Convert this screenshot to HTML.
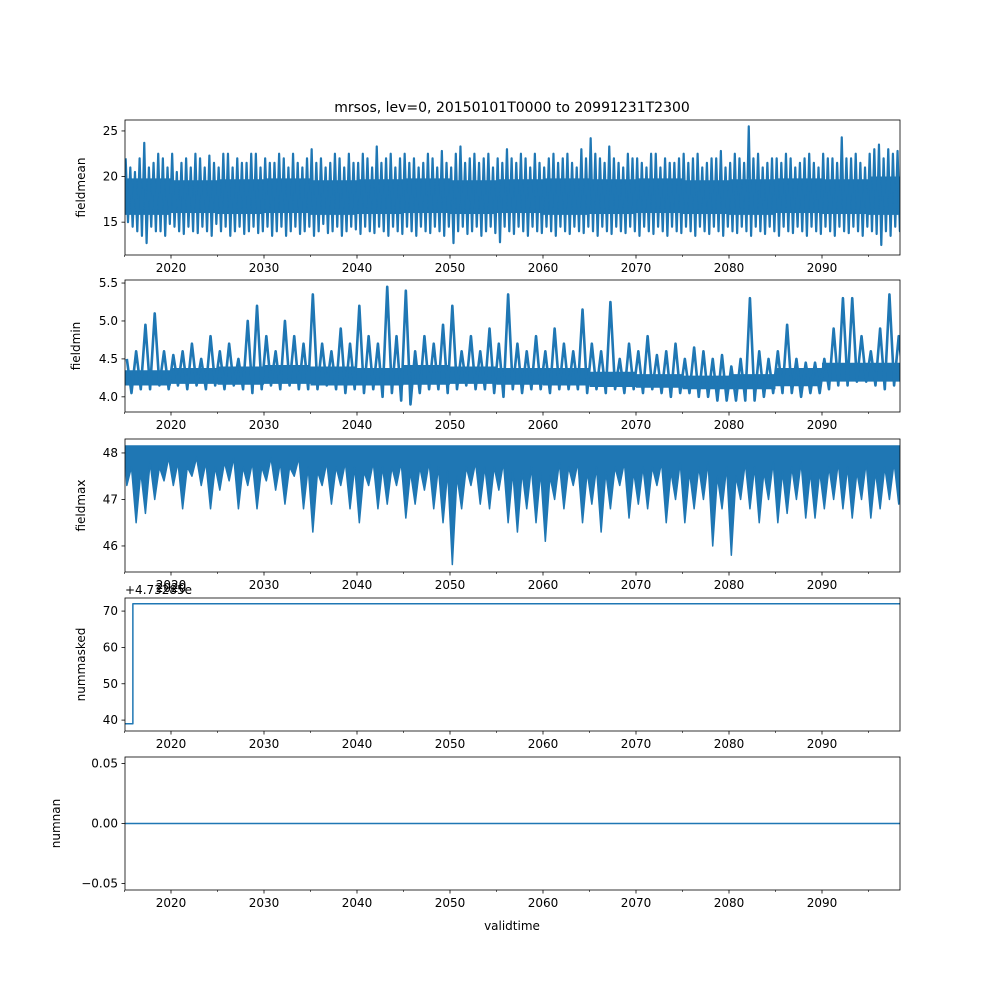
<!DOCTYPE html>
<html><head><meta charset="utf-8"><style>
body{margin:0;background:#fff}
svg{font-family:"DejaVu Sans","Liberation Sans",sans-serif}
</style></head><body>
<svg id="fig" width="1000" height="1000" xmlns="http://www.w3.org/2000/svg">
<rect width="1000" height="1000" fill="#fff"/>
<text x="512" y="112" font-size="14" text-anchor="middle">mrsos, lev=0, 20150101T0000 to 20991231T2300</text>
<text x="512" y="930" font-size="12" text-anchor="middle">validtime</text>
</svg>
<script>
// data
const startYear = 2015;
const meanVals = [22,15,21,14.5, 20.5,14,22,13.5, 23.7,12.7,21,14.5, 21.5,14,22.5,14, 22,13.5,21,14.8, 22.5,14.5,20.5,14, 21.5,13.7,22,14.5, 21,14,22.5,13.8, 22,14.5,21,14, 22.3,13.5,21.5,14.8,
21,14,22.5,14.5, 22.5,13.5,21,14, 22,14.5,21.5,13.7, 21.5,14,22.5,14.5, 22.5,13.8,21,14, 22,14.5,21.5,13.5, 21.5,14,22.5,14.5, 22,13.5,21,14, 22.5,14.5,21.5,13.7, 21,14,22,14.5,
23,13.5,21.5,14, 22,14.8,21,13.8, 21.5,14,22.5,14.5, 22,13.5,21,14, 22.5,14.5,21.5,14.2, 21.5,13.7,22.5,14.5, 22,14,21,13.8, 23.3,14.5,21.5,14, 22,13.5,22.5,14.5, 21,14,22,13.7,
22.5,14.5,21.5,14, 22,13.5,21,14.5, 21.5,14,22.5,13.8, 22,14.5,21,14, 22.8,13.5,21.5,14.5, 21,12.7,22.5,14, 23.3,14.5,21.5,13.7, 22,14,22.5,14.5, 21.5,13.5,22,14, 22.5,14.5,21,13.8,
22,12.8,21.5,14.5, 23,14,22,13.7, 21.5,14.5,22.5,14, 22,13.5,21,14.5, 22.5,14,21.5,13.8, 21,14.5,22,14, 22.5,13.5,21.5,14.5, 22,14,22.5,13.7, 21.5,14.5,21,14, 23,13.8,22,14.5,
24.2,14,22.5,13.5, 22,14.5,21.5,14, 23.3,13.7,22,14.5, 21.5,14,21,13.8, 22.5,14.5,22,14, 22,13.5,21.5,14.5, 21,14,22.5,13.7, 22.5,14.5,21,14, 22,13.5,21.5,14.5, 21.5,14,22,13.8,
22.5,14.5,21.5,14, 22,13.5,22.5,14.5, 21,14,21.5,13.7, 22,14.5,22,14, 22.8,13.5,21,14.5, 21.5,14,22.5,13.8, 22,14.5,21.5,14, 25.5,13.5,22,14.5, 22.5,14,21,13.7, 21.5,14.5,22,14,
22,13.5,21.5,14.5, 22.5,14,22,13.8, 21,14.5,21.5,14, 22,13.5,22.5,14.5, 21.5,14,21,13.7, 22.5,14.5,22,14, 22,13.5,21.5,14.5, 24.3,14,22,13.8, 22,14.5,22.5,14, 21.5,13.5,21,14.5,
22.5,14,23,13.7, 23.5,12.5,22,14, 23,13.5,22.5,14.5, 22.8,14,21.5,13.8, 22.5,14.5,21,14];
// core (dense) band per 5-year block
const meanCoreLo = [15.8,16.0,15.9,16.0,15.8,15.9,16.0,15.9,16.0,15.8,15.9,16.0,15.9,15.8,16.0,15.9,15.8];
const meanCoreHi = [19.8,19.6,19.7,19.8,19.6,19.7,19.8,19.6,19.7,19.8,19.7,19.8,19.6,19.7,19.8,19.7,20.0];
const minVals = [4.5,4.05, 4.6,4.1, 4.95,4.1, 5.1,4.15, 4.6,4.1, 4.55,4.15, 4.6,4.1, 4.7,4.15, 4.5,4.1, 4.8,4.15,
4.6,4.1, 4.7,4.15, 4.5,4.1, 5.0,4.05, 5.2,4.1, 4.8,4.15, 4.6,4.1, 5.0,4.15, 4.8,4.1, 4.7,4.1,
5.35,4.1, 4.7,4.15, 4.6,4.1, 4.9,4.05, 4.7,4.1, 5.2,4.05, 4.8,4.1, 4.7,4.0, 5.45,4.05, 4.8,3.95,
5.4,3.9, 4.6,4.05, 4.8,4.1, 4.7,4.1, 4.95,4.05, 5.2,4.1, 4.6,4.15, 4.8,4.1, 4.6,4.1, 4.9,4.05,
4.7,4.0, 5.35,4.1, 4.7,4.05, 4.6,4.1, 4.8,4.1, 4.6,4.05, 4.9,4.1, 4.7,4.1, 4.6,4.1, 5.15,4.05,
4.7,4.1, 4.6,4.05, 5.25,4.1, 4.5,4.05, 4.7,4.1, 4.6,4.05, 4.8,4.1, 4.55,4.05, 4.6,4.0, 4.7,4.05,
4.5,4.05, 4.65,4.0, 4.6,4.0, 4.5,3.95, 4.55,3.95, 4.4,3.95, 4.5,3.95, 5.3,3.95, 4.6,4.0, 4.5,4.05,
4.6,4.05, 4.95,4.05, 4.5,4.0, 4.45,4.05, 4.45,4.05, 4.5,4.1, 4.9,4.15, 5.3,4.15, 5.3,4.2, 4.8,4.2,
4.6,4.15, 4.9,4.1, 5.35,4.15, 4.8,4.2, 5.0,4.15];
const minCoreLo = [4.15,4.17,4.16,4.17,4.15,4.15,4.16,4.17,4.16,4.15,4.13,4.12,4.10,4.10,4.14,4.20,4.20];
const minCoreHi = [4.35,4.38,4.40,4.42,4.40,4.38,4.42,4.40,4.38,4.38,4.33,4.30,4.28,4.30,4.38,4.45,4.45];
const maxTop = 48.15;
const maxSpike = [47.3,46.5,46.7,47.0,47.4,47.3,46.8,47.5,47.3,46.8, 47.2,47.4,46.8,47.3,46.8,47.4,47.2,46.9,47.5,46.8,
46.3,47.3,46.9,47.3,46.8,46.5,47.3,46.8,46.9,47.3, 46.6,46.9,47.2,46.8,46.5,45.6,46.8,47.3,46.9,46.8,
47.2,46.5,46.3,46.8,46.5,46.1,47.0,46.8,47.3,46.5, 46.9,46.3,46.8,47.3,46.6,46.9,46.8,47.3,46.5,47.0,
46.5,46.8,47.0,46.0,46.8,45.8,47.0,46.8,46.5,47.0, 46.5,46.7,47.0,46.6,46.6,46.8,47.0,46.8,46.6,47.0,
46.6,46.8,47.0,46.9,46.9];
const maxBulk = [47.7,47.6,47.8,47.7,47.9,47.8,47.7,47.9,47.8,47.7, 47.8,47.9,47.7,47.8,47.7,47.9,47.8,47.7,47.9,47.7,
47.6,47.8,47.7,47.8,47.7,47.6,47.8,47.7,47.7,47.8, 47.6,47.7,47.8,47.7,47.6,47.5,47.7,47.8,47.7,47.7,
47.8,47.6,47.6,47.7,47.6,47.5,47.8,47.7,47.8,47.6, 47.7,47.6,47.7,47.8,47.6,47.7,47.7,47.8,47.6,47.8,
47.6,47.7,47.8,47.5,47.7,47.5,47.8,47.7,47.6,47.8, 47.6,47.7,47.8,47.6,47.6,47.7,47.8,47.7,47.6,47.8,
47.6,47.7,47.8,47.7,47.7];
const maskedTimes = [2015.0, 2015.9, 2015.9, 2099.9];
const maskedVals = [39, 39, 72, 72];
const nanTimes = [2015.0, 2099.9];
const nanVals = [0, 0];
const majorTicks = [2020,2030,2040,2050,2060,2070,2080,2090];
const minorTicks = [2015,2025,2035,2045,2055,2065,2075,2085,2095];

const NS = "http://www.w3.org/2000/svg";
const svg = document.getElementById('fig');
const L = 125, R = 900;
const xs = t => 171 + (t - 2020) * 9.3;
const C = '#1f77b4';
function mk(tag, attrs, parent){const e=document.createElementNS(NS,tag);for(const k in attrs)e.setAttribute(k,attrs[k]);(parent||svg).appendChild(e);return e;}

const panels = [
 {name:'fieldmean', top:120, bot:255, y0:11.4, y1:26.2, ticks:[15,20,25], fmt:v=>String(v), lx:85},
 {name:'fieldmin', top:280, bot:412, y0:3.80, y1:5.54, ticks:[4.0,4.5,5.0,5.5], fmt:v=>v.toFixed(1), lx:80},
 {name:'fieldmax', top:439, bot:572, y0:45.44, y1:48.30, ticks:[46,47,48], fmt:v=>String(v), lx:85},
 {name:'nummasked', top:598, bot:731, y0:37.0, y1:73.6, ticks:[40,50,60,70], fmt:v=>String(v), lx:85},
 {name:'numnan', top:757, bot:890, y0:-0.0555, y1:0.0555, ticks:[-0.05,0,0.05], fmt:v=>v===0?'0.00':(v<0?'\u22120.05':'0.05'), lx:60}
];
panels.forEach((p,i)=>{
  const g = mk('g',{});
  
  
  const ys = v => p.bot - (v - p.y0) / (p.y1 - p.y0) * (p.bot - p.top);
  p.ys = ys;
  const cp = mk('clipPath',{id:'cp'+i}, g);
  mk('rect',{x:L,y:p.top,width:R-L,height:p.bot-p.top},cp);
  const dg = mk('g',{'clip-path':'url(#cp'+i+')'}, g);
  p.dg = dg;
  p.ticks.forEach(v=>{
    const y = ys(v);
    mk('line',{x1:L-3.5,x2:L,y1:y,y2:y,stroke:'#000','stroke-width':0.8},g);
    const t = mk('text',{x:L-7,y:y+4,'font-size':12,'text-anchor':'end'},g);
    
    
    t.textContent = p.fmt(v);
  });
  majorTicks.forEach(v=>{
    const x = xs(v);
    mk('line',{x1:x,x2:x,y1:p.bot,y2:p.bot+3.5,stroke:'#000','stroke-width':0.8},g);
    const t = mk('text',{x:x,y:p.bot+17,'font-size':12,'text-anchor':'middle'},g);
    
    
    t.textContent = v;
  });
  minorTicks.forEach(v=>{
    const x = xs(v);
    if (x < L-1 || x > R+1) return;
    mk('line',{x1:x,x2:x,y1:p.bot,y2:p.bot+2,stroke:'#000','stroke-width':0.6},g);
  });
  const yl = mk('text',{x:p.lx,y:(p.top+p.bot)/2,'font-size':12,'text-anchor':'middle',transform:'rotate(-90 '+p.lx+' '+(p.top+p.bot)/2+')'},g);
  
  
  yl.textContent = p.name;
  p.g = g;
});

function line(p, times, vals, w, name){
  let d='';
  times.forEach((t,i)=>{d+=(i?'L':'M')+xs(t).toFixed(2)+','+p.ys(vals[i]).toFixed(2);});
  const e = mk('path',{d:d,fill:'none',stroke:C,'stroke-width':w,'stroke-linejoin':'round'},p.dg);
  
  
}
function band(p, lo, hi, name){
  let top='', bot='';
  lo.forEach((v,i)=>{
    const x0 = xs(startYear+i*5), x1 = xs(startYear+(i+1)*5);
    top += (i?'L':'M')+x0.toFixed(2)+','+p.ys(hi[i]).toFixed(2)+'L'+x1.toFixed(2)+','+p.ys(hi[i]).toFixed(2);
  });
  for(let i=lo.length-1;i>=0;i--){
    const x0 = xs(startYear+i*5), x1 = xs(startYear+(i+1)*5);
    bot += 'L'+x1.toFixed(2)+','+p.ys(lo[i]).toFixed(2)+'L'+x0.toFixed(2)+','+p.ys(lo[i]).toFixed(2);
  }
  const e = mk('path',{d:top+bot+'Z',fill:C,stroke:'none'},p.dg);
  
  
}
band(panels[0], meanCoreLo, meanCoreHi, 'fieldmean-core-band');
line(panels[0], meanVals.map((v,i)=>startYear+(i+0.5)/4), meanVals, 2.2, 'fieldmean-line');
band(panels[1], minCoreLo, minCoreHi, 'fieldmin-core-band');
line(panels[1], minVals.map((v,i)=>startYear+(i+0.5)/2), minVals, 2.6, 'fieldmin-line');
(function(){
  const p = panels[2];
  const ts=[], vs=[];
  maxSpike.forEach((v,i)=>{ts.push(startYear+i+0.25);vs.push(v);ts.push(startYear+i+0.75);vs.push(maxBulk[i]);});
  let d='M'+xs(startYear)+','+p.ys(maxTop);
  ts.forEach((t,i)=>{d+='L'+xs(t).toFixed(2)+','+p.ys(vs[i]).toFixed(2);});
  d+='L'+xs(startYear+maxSpike.length)+','+p.ys(maxTop)+'Z';
  const e = mk('path',{d:d,fill:C,stroke:C,'stroke-width':1.5,'stroke-linejoin':'round'},p.dg);
  
  
})();
line(panels[3], maskedTimes, maskedVals, 1.5, 'nummasked-line');
line(panels[4], nanTimes, nanVals, 1.5, 'numnan-line');
panels.forEach(p=>{
  const r = mk('rect',{x:L,y:p.top,width:R-L,height:p.bot-p.top,fill:'none',stroke:'#000','stroke-width':0.8},p.g);
  
  
});
const off = mk('text',{x:125,y:594,'font-size':12});


off.textContent = '+4.73285e';
const off2 = mk('text',{x:171,y:592,'font-size':12,'text-anchor':'middle'});


off2.textContent = '2020';
</script>
</body></html>
